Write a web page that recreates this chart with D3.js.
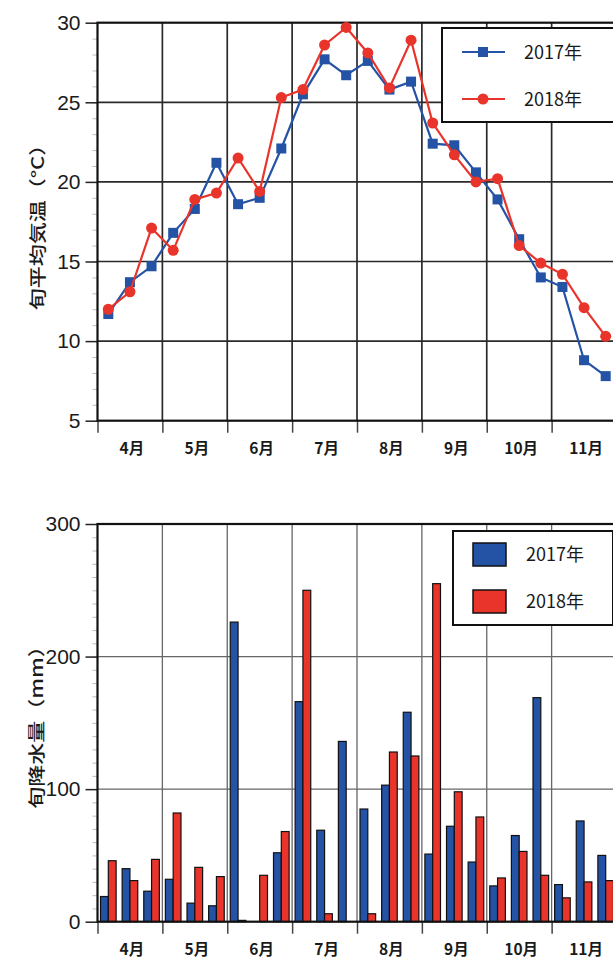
<!DOCTYPE html>
<html>
<head>
<meta charset="utf-8">
<script src="https://cdn.jsdelivr.net/npm/d3@7"></script>
<style>
  html, body { margin: 0; padding: 0; background: #fff; }
  svg { display: block; }
  .num { font-family: "Liberation Sans", Arial, sans-serif; }
  .cjk { font-family: "Noto Sans CJK JP", "Noto Sans", sans-serif; }
</style>
</head>
<body>
<svg id="chart" width="613" height="958"></svg>
<script>
// Dekads (上旬・中旬・下旬) from April to November
const months = ["4月", "5月", "6月", "7月", "8月", "9月", "10月", "11月"];
const dekads = d3.range(24);
const seriesNames = ["2017年", "2018年"];

// Dekad mean air temperature (°C)
const temp2017 = [11.7, 13.7, 14.7, 16.8, 18.3, 21.2, 18.6, 19.0, 22.1, 25.5, 27.7, 26.7,
                  27.6, 25.8, 26.3, 22.4, 22.3, 20.6, 18.9, 16.4, 14.0, 13.4, 8.8, 7.8];
const temp2018 = [12.0, 13.1, 17.1, 15.7, 18.9, 19.3, 21.5, 19.4, 25.3, 25.8, 28.6, 29.7,
                  28.1, 25.9, 28.9, 23.7, 21.7, 20.0, 20.2, 16.0, 14.9, 14.2, 12.1, 10.3];

// Dekad precipitation (mm)
const rain2017 = [19, 40, 23, 32, 14, 12, 226, 0, 52, 166, 69, 136,
                  85, 103, 158, 51, 72, 45, 27, 65, 169, 28, 76, 50];
const rain2018 = [46, 31, 47, 82, 41, 34, 1, 35, 68, 250, 6, 0,
                  6, 128, 125, 255, 98, 79, 33, 53, 35, 18, 30, 31];

const tempTicks = [5, 10, 15, 20, 25, 30];
const rainTicks = [0, 100, 200, 300];

const BLUE = "#2452a4";
const RED = "#e8342b";

const svg = d3.select("#chart");
const left = 97.5, right = 616.5;

// x: one band per dekad, month boundaries every 3 bands
const xBand = d3.scaleBand().domain(dekads).range([left, right]).padding(0);
const xMonth = d3.scaleLinear().domain([0, 24]).range([left, right]);

function drawFrame(g, y, ticks, minorStep, gridColor, gridWidth) {
  const [y0, y1] = y.domain();
  // minor ticks on the value axis
  g.append("g")
    .attr("transform", `translate(${left},0)`)
    .call(d3.axisLeft(y).tickValues(d3.range(y0, y1 + 1e-9, minorStep)).tickSize(5).tickFormat(""))
    .call(a => a.select(".domain").remove())
    .call(a => a.selectAll("line").attr("stroke", "#bbb").attr("stroke-width", 1));

  // horizontal grid
  g.append("g").selectAll("line").data(ticks.filter(t => t !== y0 && t !== y1)).join("line")
    .attr("x1", left).attr("x2", right)
    .attr("y1", d => y(d)).attr("y2", d => y(d))
    .attr("stroke", gridColor).attr("stroke-width", gridWidth);

  // vertical month grid
  g.append("g").selectAll("line").data(d3.range(1, 8).map(m => m * 3)).join("line")
    .attr("x1", d => xMonth(d)).attr("x2", d => xMonth(d))
    .attr("y1", y(y1)).attr("y2", y(y0))
    .attr("stroke", gridColor).attr("stroke-width", gridWidth);

  // major ticks and labels on the value axis
  g.append("g")
    .attr("transform", `translate(${left},0)`)
    .call(d3.axisLeft(y).tickValues(ticks).tickSize(12).tickPadding(5))
    .call(a => a.select(".domain").remove())
    .call(a => a.selectAll("line").attr("stroke", "#222").attr("stroke-width", 1.5))
    .call(a => a.selectAll("text").attr("class", "num").attr("font-size", 21).attr("fill", "#1a1a1a"));

  // month ticks below the x axis
  g.append("g")
    .attr("transform", `translate(0,${y(y0)})`)
    .call(d3.axisBottom(xMonth).tickValues(d3.range(0, 25, 3)).tickSize(12).tickFormat(""))
    .call(a => a.select(".domain").remove())
    .call(a => a.selectAll("line").attr("stroke", "#444").attr("stroke-width", 1.5));

  // month labels
  g.append("g").selectAll("text").data(months).join("text")
    .attr("class", "cjk")
    .attr("x", (d, i) => xMonth(i * 3 + 1.5) + 2)
    .attr("y", y(y0) + 33)
    .attr("text-anchor", "middle")
    .attr("font-size", 15.5).attr("font-weight", "bold").attr("fill", "#1a1a1a")
    .text(d => d);
}

function drawBorder(g, y) {
  const [y0, y1] = y.domain();
  g.append("rect")
    .attr("x", left).attr("y", y(y1))
    .attr("width", right - left).attr("height", y(y0) - y(y1))
    .attr("fill", "none").attr("stroke", "#111").attr("stroke-width", 2.2);
}

function yTitle(g, text, cx, cy) {
  g.append("text")
    .attr("class", "cjk")
    .attr("transform", `translate(${cx},${cy}) rotate(-90) scale(1,0.78)`)
    .attr("text-anchor", "middle")
    .attr("dominant-baseline", "central")
    .attr("font-size", 22).attr("font-weight", 500).attr("fill", "#1a1a1a")
    .text(text);
}

// ---------- Temperature panel ----------
const yT = d3.scaleLinear().domain([5, 30]).range([420.7, 22.7]);
const gT = svg.append("g");
drawFrame(gT, yT, tempTicks, 1, "#2a2a2a", 1.7);
drawBorder(gT, yT);

const lineT = d3.line()
  .x((d, i) => xBand(i) + xBand.bandwidth() / 2)
  .y(d => yT(d));

gT.append("path").datum(temp2017).attr("d", lineT)
  .attr("fill", "none").attr("stroke", BLUE).attr("stroke-width", 2.2);
gT.append("g").selectAll("rect").data(temp2017).join("rect")
  .attr("x", (d, i) => xBand(i) + xBand.bandwidth() / 2 - 5)
  .attr("y", d => yT(d) - 5)
  .attr("width", 10).attr("height", 10)
  .attr("fill", BLUE);

gT.append("path").datum(temp2018).attr("d", lineT)
  .attr("fill", "none").attr("stroke", RED).attr("stroke-width", 2.2);
gT.append("g").selectAll("circle").data(temp2018).join("circle")
  .attr("cx", (d, i) => xBand(i) + xBand.bandwidth() / 2)
  .attr("cy", d => yT(d))
  .attr("r", 5.5)
  .attr("fill", RED);

yTitle(gT, "旬平均気温（°C）", 37, 222);

// legend (lines)
const legT = gT.append("g");
legT.append("rect").attr("x", 442).attr("y", 28).attr("width", 172).attr("height", 94)
  .attr("fill", "#fff").attr("stroke", "#111").attr("stroke-width", 2);
seriesNames.forEach((name, k) => {
  const ly = 52 + k * 47;
  const col = k === 0 ? BLUE : RED;
  legT.append("line").attr("x1", 462).attr("x2", 505).attr("y1", ly).attr("y2", ly)
    .attr("stroke", col).attr("stroke-width", 2.2);
  if (k === 0) {
    legT.append("rect").attr("x", 478).attr("y", ly - 5).attr("width", 10).attr("height", 10).attr("fill", col);
  } else {
    legT.append("circle").attr("cx", 483).attr("cy", ly).attr("r", 5.5).attr("fill", col);
  }
  legT.append("text").attr("class", "cjk").attr("x", 524).attr("y", ly + 7)
    .attr("font-size", 18).attr("fill", "#1a1a1a").text(name);
});

// ---------- Precipitation panel ----------
const yR = d3.scaleLinear().domain([0, 300]).range([921.7, 524]);
const gR = svg.append("g");
drawFrame(gR, yR, rainTicks, 10, "#666", 1.3);

const xInner = d3.scaleBand().domain(seriesNames)
  .range([0, xBand.bandwidth()]).paddingInner(0).paddingOuter(0.385);

const rainRows = dekads.map(i => ({ i, vals: [rain2017[i], rain2018[i]] }));
gR.append("g").selectAll("g").data(rainRows).join("g")
  .attr("transform", d => `translate(${xBand(d.i)},0)`)
  .selectAll("rect").data(d => d.vals.map((v, k) => ({ v, k }))).join("rect")
  .attr("x", d => xInner(seriesNames[d.k]))
  .attr("y", d => yR(d.v))
  .attr("width", xInner.bandwidth())
  .attr("height", d => yR(0) - yR(d.v))
  .attr("fill", d => d.k === 0 ? BLUE : RED)
  .attr("stroke", "#111").attr("stroke-width", 1.2);

drawBorder(gR, yR);
yTitle(gR, "旬降水量（mm）", 36, 722);

// legend (swatches)
const legR = gR.append("g");
legR.append("rect").attr("x", 453).attr("y", 531).attr("width", 160).attr("height", 94)
  .attr("fill", "#fff").attr("stroke", "#111").attr("stroke-width", 2);
seriesNames.forEach((name, k) => {
  const sy = 543 + k * 47;
  legR.append("rect").attr("x", 473).attr("y", sy).attr("width", 33).attr("height", 23)
    .attr("fill", k === 0 ? BLUE : RED).attr("stroke", "#111").attr("stroke-width", 1.5);
  legR.append("text").attr("class", "cjk").attr("x", 526).attr("y", sy + 18)
    .attr("font-size", 18).attr("fill", "#1a1a1a").text(name);
});
</script>
</body>
</html>
